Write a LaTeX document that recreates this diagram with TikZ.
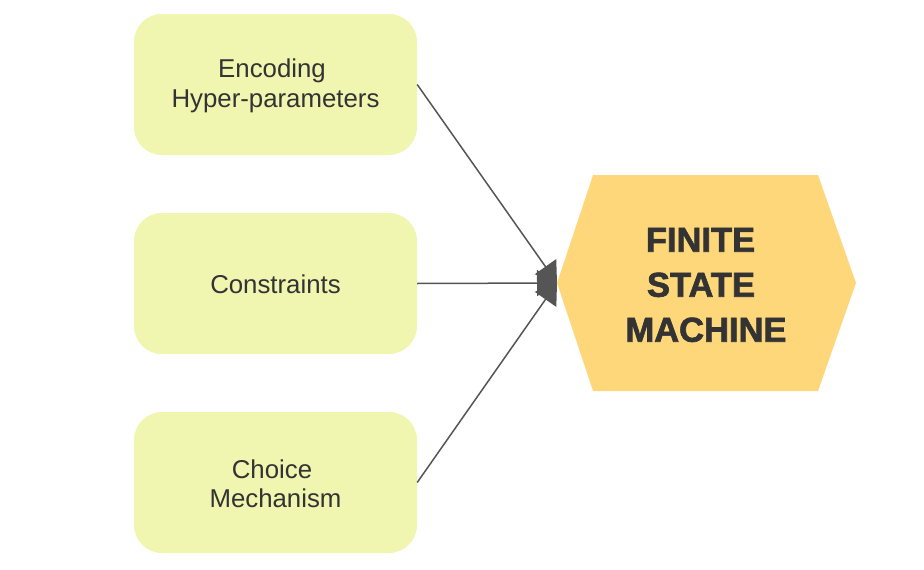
\documentclass[tikz,border=0pt]{standalone}
\usepackage{fontspec}
\setmainfont{Liberation Sans}
\newfontfamily\heavyfont[FakeBold=2]{Liberation Sans Bold}
\usetikzlibrary{arrows.meta}
\definecolor{boxfill}{HTML}{F0F5B0}
\definecolor{hexfill}{HTML}{FDD77A}
\definecolor{txt}{HTML}{333333}
\definecolor{edge}{HTML}{555555}
\begin{document}
\begin{tikzpicture}[x=1pt,y=-1pt,
  inbox/.style={fill=boxfill,draw=none,rounded corners=28pt,minimum width=283pt,minimum height=141pt,
    align=center,inner sep=0pt},
  intext/.style={text=txt,align=center,font=\fontsize{25.8}{29.5}\selectfont,inner sep=0pt},
  conn/.style={draw=edge,line width=1.5pt,-{Triangle[length=20pt,width=26pt]}}]
\useasboundingbox (0,0) rectangle (924,570);
\node[inbox] (enc) at (275.5,84.5) {};
\node[inbox] (con) at (275.5,283.5) {};
\node[inbox] (cho) at (275.5,482.5) {};
\node[intext] (enct) at (275.5,86) {Encoding\kern7pt\\Hyper-parameters};
\node[intext] (cont) at (275.5,284) {Constraints};
\node[intext] (chot) at (275.5,484) {Choice\kern7pt\\Mechanism};
\path[fill=hexfill] (557,283) -- (593,175) -- (818,175) -- (856,283) -- (818,391) -- (593,391) -- cycle;
\coordinate (tip) at (557,283);
\node[text=txt,align=center,font=\heavyfont\fontsize{34.5}{45}\selectfont,inner sep=0pt] (fsm) at (706,285) {FINITE\kern11pt\\STATE\kern10pt\\MACHINE};
\draw[conn] (enc.east) -- (tip);
\draw[conn] (con.east) -- (tip);
\draw[conn] (cho.east) -- (tip);
\end{tikzpicture}
\end{document}
